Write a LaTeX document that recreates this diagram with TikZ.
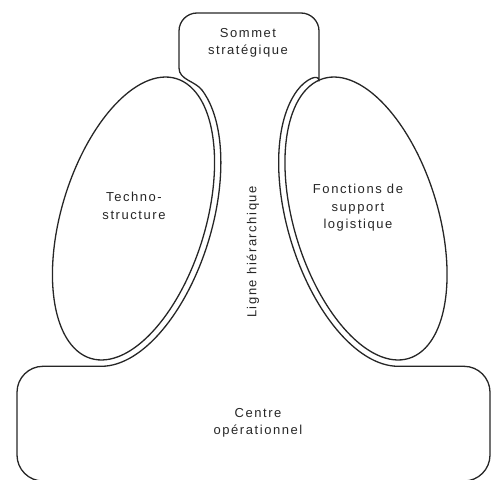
\documentclass[tikz,border=0pt]{standalone}
\usepackage{fontspec}
\setmainfont{Liberation Sans}
\newfontfamily\lblfont[LetterSpace=12]{Liberation Sans}
\begin{document}
\begin{tikzpicture}[x=1pt,y=-1pt,
  outl/.style={line width=1.3pt, draw=black!85, line join=round},
  lbl/.style={align=center, inner sep=0pt, text=black!85,
    font=\lblfont\fontsize{13}{17.5}\selectfont},
  declare function={
    lex(\t)=133.5+146.3*cos(\t)*0.2924+72*sin(\t)*0.9563;
    ley(\t)=218.5-146.3*cos(\t)*0.9563+72*sin(\t)*0.2924;
    nrm(\t)=10*sqrt((7.2*cos(\t))^2+(14.63*sin(\t))^2);
    lox(\t)=lex(\t)+0.63*(7.2*cos(\t)*0.2924+14.63*sin(\t)*0.9563)/(nrm(\t)/100);
    loy(\t)=ley(\t)+0.63*(-7.2*cos(\t)*0.9563+14.63*sin(\t)*0.2924)/(nrm(\t)/100);
    rex(\t)=499.5-lex(\t);
    rox(\t)=499.5-lox(\t);
  }]
\useasboundingbox (0,0) rectangle (494,479);

% outer contour: top box, neck along the two ellipses, bottom box
\draw[outl] (179,68)
  {[rounded corners=18pt] -- (179,13) -- (319,13) -- (319,63)}
  .. controls (319,73) and (305.5,79.2) .. ({rox(20)},{loy(20)})
  -- plot[domain=20:171.4, samples=60, smooth, variable=\t]
       ({rox(\t)},{loy(\t)})
  {[rounded corners=26pt] -- (490,366.3) -- (490,481) -- (17,481) -- (17,366.3)}
  -- ({lox(171.4)},{loy(171.4)})
  -- plot[domain=171.4:20, samples=60, smooth, variable=\t]
       ({lox(\t)},{loy(\t)})
  .. controls (195.2,80.8) and (179,80) .. (179,68) -- cycle;

% the two ellipses
\draw[outl] plot[domain=0:357, samples=120, smooth cycle, variable=\t]
  ({lex(\t)},{ley(\t)});
\draw[outl] plot[domain=0:357, samples=120, smooth cycle, variable=\t]
  ({rex(\t)},{ley(\t)});

% labels
\node[lbl] (sommet) at (248,43) {Sommet\\stratégique};
\node[lbl] (techno) at (134,206) {Techno-\\structure};
\node[lbl] (support) at (358,208) {Fonctions de\\support\\logistique};
\node[lbl, rotate=90] (ligne) at (253,252) {Ligne hiérarchique};
\node[lbl] (centre) at (258,423) {Centre\\opérationnel};
\end{tikzpicture}
\end{document}
